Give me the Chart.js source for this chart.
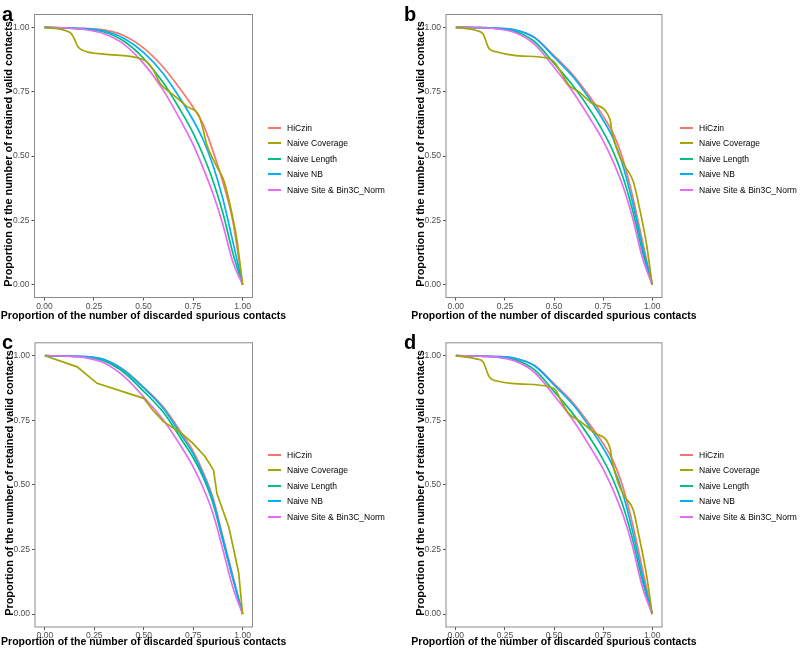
<!DOCTYPE html>
<html>
<head>
<meta charset="utf-8">
<script src="https://cdn.jsdelivr.net/npm/chart.js@4.4.0/dist/chart.umd.min.js"></script>
<style>
  body { margin: 0; width: 800px; height: 652px; background: #fff; position: relative; overflow: hidden;
         font-family: "Liberation Sans", Arial, sans-serif; }
  .pane { position: absolute; width: 400px; height: 326px; }
  .pane canvas { position: absolute; left: 0; top: 0; }
  .tag { position: absolute; font-weight: bold; font-size: 20px; line-height: 20px; color: #000; }
  .leg { position: absolute; font-size: 8.5px; color: #000; }
  .leg .row { height: 15.5px; display: flex; align-items: center; white-space: nowrap; }
  .leg .key { display: inline-block; width: 13px; height: 1.6px; margin-right: 6px; }
  .xt { position: absolute; white-space: nowrap; font-weight: bold; font-size: 10.5px; line-height: 12px;
        transform: translate(-50%, -50%) scaleY(1.05); }
  .yt { position: absolute; white-space: nowrap; font-weight: bold; font-size: 10.9px; line-height: 12px;
        transform: translate(-50%, -50%) rotate(-90deg) scaleY(0.96); }
</style>
</head>
<body>
<div class="pane" style="left:0;top:0"><canvas id="ca" width="400" height="326"></canvas></div>
<div class="pane" style="left:400px;top:0"><canvas id="cb" width="400" height="326"></canvas></div>
<div class="pane" style="left:0;top:326px"><canvas id="cc" width="400" height="326"></canvas></div>
<div class="pane" style="left:400px;top:326px"><canvas id="cd" width="400" height="326"></canvas></div>
<div id="titles"></div>
<div class="tag" style="left:2px;top:4px">a</div>
<div class="tag" style="left:404px;top:4px">b</div>
<div class="tag" style="left:2px;top:332px">c</div>
<div class="tag" style="left:404px;top:332px">d</div>
<div class="leg" id="la" style="left:268px;top:120px"></div>
<div class="leg" id="lb" style="left:680px;top:120px"></div>
<div class="leg" id="lc" style="left:268px;top:447px"></div>
<div class="leg" id="ld" style="left:680px;top:447px"></div>
<script>
// séries et couleurs (palette ggplot par défaut)
const SERIES = ['HiCzin', 'Naive Coverage', 'Naive Length', 'Naive NB', 'Naive Site & Bin3C_Norm'];
const COLORS = ['#F8766D', '#A3A500', '#00BF7D', '#00B0F6', '#E76BF3'];
const TICKS = [0, 0.25, 0.5, 0.75, 1];
const X_TITLE = 'Proportion of the number of discarded spurious contacts';
const Y_TITLE = 'Proportion of the number of retained valid contacts';

// grille commune pour les courbes lisses
const XS = [0, 0.1, 0.2, 0.3, 0.4, 0.5, 0.6, 0.7, 0.75, 0.8, 0.85, 0.9, 0.95, 1];

// panneau a
const A_HICZIN = [1, .998, .996, .99, .968, .92, .845, .745, .69, .625, .52, .40, .25, 0];
const A_LENGTH = [1, .998, .994, .982, .947, .88, .785, .66, .59, .505, .405, .28, .125, 0];
const A_NB     = [1, .998, .995, .986, .958, .903, .82, .705, .64, .565, .465, .335, .17, 0];
const A_SITE   = [1, .998, .992, .975, .935, .86, .755, .62, .545, .455, .355, .235, .09, 0];
const A_COV_X  = [0, .13, .146, .17, .214, .3, .483, .517, .55, .584, .652, .719, .778, .795, .82, .853, .887, .904, .938, .971, 1];
const A_COV_Y  = [1, .98, .963, .924, .905, .896, .879, .866, .834, .782, .737, .692, .66, .62, .543, .485, .434, .408, .305, .175, 0];

// panneau b
const B_HICZIN = [1, .999, .997, .99, .962, .89, .812, .712, .655, .59, .49, .345, .17, 0];
const B_LENGTH = [1, .999, .996, .985, .945, .86, .77, .66, .595, .52, .42, .29, .13, 0];
const B_NB     = [1, .999, .997, .99, .96, .885, .805, .70, .64, .57, .465, .32, .15, 0];
const B_SITE   = [1, .999, .995, .98, .935, .845, .745, .625, .56, .48, .385, .26, .105, 0];
const B_COV_X  = [0, .104, .138, .17, .205, .306, .475, .5, .54, .576, .626, .694, .786, .795, .828, .862, .904, .93, .97, 1];
const B_COV_Y  = [1, .988, .975, .917, .905, .89, .879, .866, .82, .775, .75, .705, .64, .595, .51, .46, .40, .317, .163, 0];

// panneau c
const C_HICZIN = [1, .999, .997, .985, .945, .878, .80, .69, .63, .55, .45, .30, .15, 0];
const C_LENGTH = [1, .999, .995, .98, .935, .862, .78, .665, .605, .53, .43, .285, .14, 0];
const C_NB     = [1, .999, .997, .985, .943, .875, .795, .68, .62, .54, .44, .29, .14, 0];
const C_SITE   = [1, .999, .993, .972, .92, .84, .75, .635, .57, .49, .39, .25, .105, 0];
const C_COV_X  = [0, .163, .264, .5, .545, .6, .69, .75, .81, .853, .87, .93, .955, .98, 1];
const C_COV_Y  = [1, .957, .893, .835, .79, .745, .70, .66, .61, .557, .467, .337, .25, .16, 0];

// panneau d
const D_HICZIN = [1, .999, .997, .99, .963, .892, .815, .715, .66, .595, .495, .35, .175, 0];
const D_LENGTH = [1, .999, .996, .985, .946, .862, .772, .662, .598, .522, .422, .29, .13, 0];
const D_NB     = [1, .999, .997, .99, .961, .887, .808, .703, .643, .572, .468, .322, .15, 0];
const D_SITE   = [1, .999, .995, .98, .936, .847, .747, .627, .562, .482, .387, .262, .105, 0];
const D_COV_X  = [0, .104, .138, .17, .222, .306, .475, .508, .54, .576, .635, .71, .786, .795, .828, .862, .904, .93, .97, 1];
const D_COV_Y  = [1, .988, .977, .919, .90, .892, .88, .867, .82, .776, .745, .70, .641, .596, .505, .453, .402, .312, .157, 0];

const pts = (xs, ys) => xs.map((x, i) => ({ x, y: ys[i] }));

const frame = {
  id: 'frame',
  afterDraw(chart) {
    const { ctx, chartArea: a } = chart;
    ctx.save();
    ctx.strokeStyle = '#8a8a8a';
    ctx.lineWidth = 1;
    ctx.strokeRect(a.left, a.top, a.right - a.left, a.bottom - a.top);
    ctx.restore();
  }
};

// titres d'axes en HTML (plus larges que la zone du graphique)
function addTitles(ox, oy, cx, xty, ytx, yty) {
  const box = document.getElementById('titles');
  box.insertAdjacentHTML('beforeend',
    `<div class="xt" style="left:${ox + cx}px;top:${oy + xty}px">${X_TITLE}</div>` +
    `<div class="yt" style="left:${ox + ytx}px;top:${oy + yty}px">${Y_TITLE}</div>`);
}

function panel(canvasId, legendId, cfg) {
  const lines = [cfg.hiczin, null, cfg.length, cfg.nb, cfg.site];
  const datasets = SERIES.map((name, i) => {
    const coverage = i === 1;
    return {
      label: name,
      data: coverage ? pts(cfg.covX, cfg.covY) : pts(XS, lines[i]),
      borderColor: COLORS[i],
      borderWidth: 1.7,
      pointRadius: 0,
      fill: false,
      cubicInterpolationMode: coverage && cfg.straight ? 'default' : 'monotone',
      tension: 0,
      order: i === 1 ? 0 : 5 - i,
    };
  });
  const chart = new Chart(document.getElementById(canvasId), {
    type: 'line',
    data: { datasets },
    options: {
      responsive: false, animation: false, devicePixelRatio: 1,
      layout: { padding: { left: cfg.left, top: cfg.top, right: cfg.right, bottom: 0 } },
      plugins: { legend: { display: false }, tooltip: { enabled: false } },
      scales: {
        x: {
          type: 'linear', min: -0.05, max: 1.05,
          afterBuildTicks: s => { s.ticks = TICKS.map(v => ({ value: v })); },
          afterFit: s => { s.height = cfg.xh; },
          grid: { drawOnChartArea: false, tickLength: 3, tickColor: '#555' },
          border: { display: false },
          ticks: { padding: 1, color: '#4d4d4d', font: { family: 'Liberation Sans', size: 8.5 },
                   callback: v => Number(v).toFixed(2), maxRotation: 0 },
        },
        y: {
          type: 'linear', min: -0.05, max: 1.05,
          afterBuildTicks: s => { s.ticks = TICKS.map(v => ({ value: v })); },
          afterFit: s => { s.width = 34.5; },
          grid: { drawOnChartArea: false, tickLength: 3, tickColor: '#555' },
          border: { display: false },
          ticks: { padding: 2, color: '#4d4d4d', font: { family: 'Liberation Sans', size: 8.5 },
                   callback: v => Number(v).toFixed(2) },
        },
      },
    },
    plugins: [frame],
  });
  const a = chart.chartArea;
  addTitles(cfg.ox, cfg.oy, (a.left + a.right) / 2, cfg.xty, a.left - 26.5, cfg.yty);
  document.getElementById(legendId).innerHTML = SERIES.map((name, i) =>
    `<div class="row"><span class="key" style="background:${COLORS[i]}"></span><span>${name.replace('&', '&amp;')}</span></div>`
  ).join('');
}

panel('ca', 'la', { hiczin: A_HICZIN, length: A_LENGTH, nb: A_NB, site: A_SITE, covX: A_COV_X, covY: A_COV_Y,
  left: 0, top: 14.5, right: 147.5, xh: 28.5, ox: 0, oy: 0, xty: 315, yty: 154 });
panel('cb', 'lb', { hiczin: B_HICZIN, length: B_LENGTH, nb: B_NB, site: B_SITE, covX: B_COV_X, covY: B_COV_Y,
  left: 11.5, top: 14.5, right: 138, xh: 28.5, ox: 400, oy: 0, xty: 315, yty: 154 });
panel('cc', 'lc', { hiczin: C_HICZIN, length: C_LENGTH, nb: C_NB, site: C_SITE, covX: C_COV_X, covY: C_COV_Y,
  left: 0.5, top: 16.8, right: 147.5, xh: 25, ox: 0, oy: 326, xty: 315, yty: 157, straight: true });
panel('cd', 'ld', { hiczin: D_HICZIN, length: D_LENGTH, nb: D_NB, site: D_SITE, covX: D_COV_X, covY: D_COV_Y,
  left: 11.5, top: 16.8, right: 138, xh: 25, ox: 400, oy: 326, xty: 315, yty: 157 });
</script>
</body>
</html>
